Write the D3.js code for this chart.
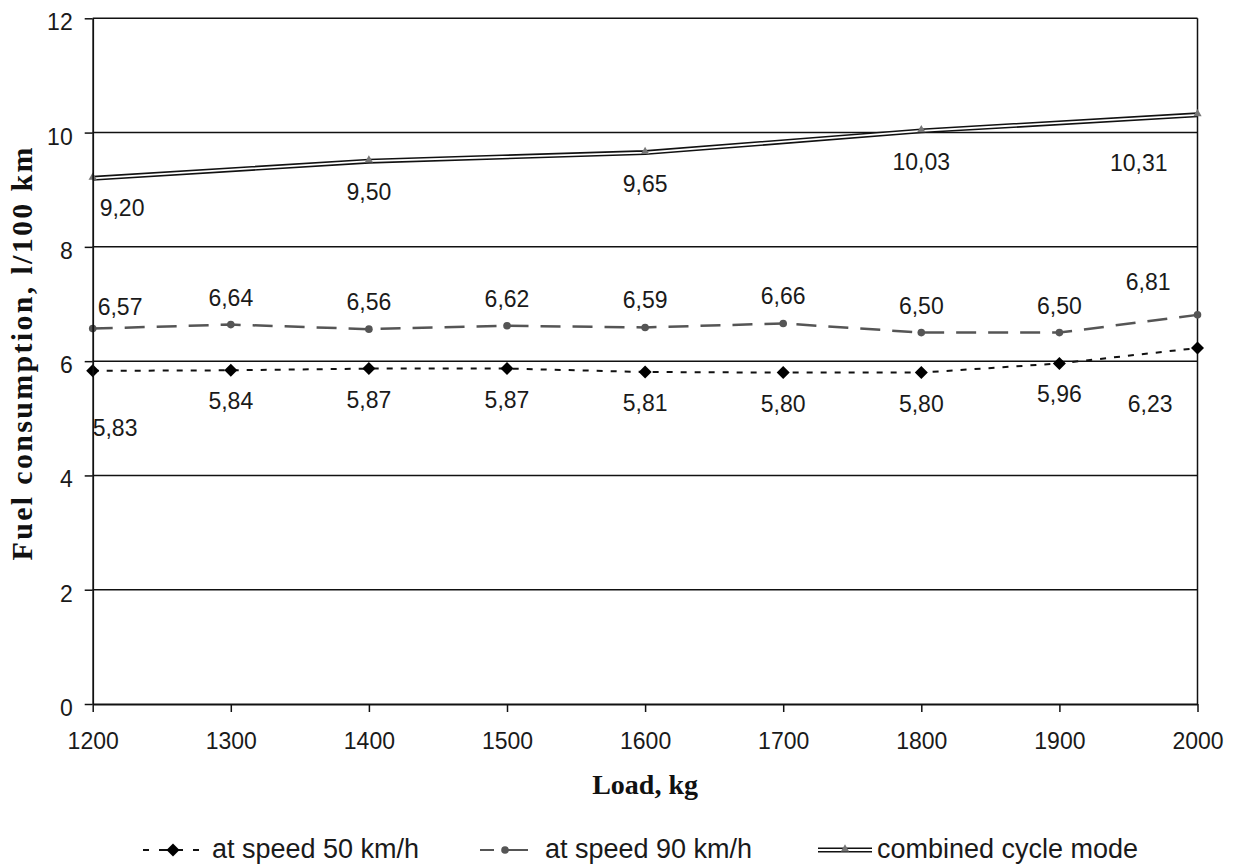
<!DOCTYPE html>
<html>
<head>
<meta charset="utf-8">
<script src="https://cdn.jsdelivr.net/npm/d3@7"></script>
<style>
  body { margin: 0; background: #fff; }
  svg { display: block; }
  .tick text { font-family: "Liberation Sans", Arial, sans-serif; font-size: 23px; fill: #1a1a1a; }
</style>
</head>
<body>
<div id="chart"></div>
<script>
// data
const loads = [1200, 1300, 1400, 1500, 1600, 1700, 1800, 1900, 2000];
const speed50 = [5.83, 5.84, 5.87, 5.87, 5.81, 5.80, 5.80, 5.96, 6.23];
const speed90 = [6.57, 6.64, 6.56, 6.62, 6.59, 6.66, 6.50, 6.50, 6.81];
const combinedLoads = [1200, 1400, 1600, 1800, 2000];
const combined = [9.20, 9.50, 9.65, 10.03, 10.31];
const xTickValues = [1200, 1300, 1400, 1500, 1600, 1700, 1800, 1900, 2000];
const yTickValues = [0, 2, 4, 6, 8, 10, 12];
const seriesNames = ["at speed 50 km/h", "at speed 90 km/h", "combined cycle mode"];

const width = 1236;
const height = 864;
const plot = { left: 92.7, right: 1197.5, top: 18.3, bottom: 704 };

const svg = d3.select('#chart')
    .append('svg')
    .attr('width', width)
    .attr('height', height);

const x = d3.scaleLinear().domain([1200, 2000]).range([plot.left, plot.right]);
const y = d3.scaleLinear().domain([0, 12]).range([plot.bottom, plot.top]);

const fmt = v => d3.format('.2f')(v).replace('.', ',');

// horizontal gridlines
svg.append('g')
    .selectAll('line')
    .data(yTickValues.filter(d => d > 0))
    .enter()
    .append('line')
    .attr('x1', plot.left)
    .attr('x2', plot.right)
    .attr('y1', d => y(d))
    .attr('y2', d => y(d))
    .attr('stroke', '#111')
    .attr('stroke-width', 1.5);

// right border of the plot
svg.append('line')
    .attr('x1', plot.right).attr('x2', plot.right)
    .attr('y1', plot.top).attr('y2', plot.bottom)
    .attr('stroke', '#111')
    .attr('stroke-width', 1.5);

// series set up: style and where the value labels go
const series = [
    {
        name: seriesNames[0],
        xs: loads, ys: speed50,
        color: '#111', width: 2, dash: '6,8',
        marker: 'diamond',
        dy: 31, first: { dx: 0, dy: 57 }, last: { dx: -25, dy: 56 }
    },
    {
        name: seriesNames[1],
        xs: loads, ys: speed90,
        color: '#555', width: 2.5, dash: '20,12',
        marker: 'circle',
        dy: -27, first: { dx: 5, dy: -22 }, last: { dx: -27, dy: -33 }
    },
    {
        name: seriesNames[2],
        xs: combinedLoads, ys: combined,
        color: '#111', width: 5, dash: null, double: true,
        marker: 'triangle',
        dy: 31, first: { dx: 7, dy: 30 }, last: { dx: -30, dy: 48 }
    }
];

const line = d3.line().x(d => x(d[0])).y(d => y(d[1]));

function drawMarker(g, type, cx, cy) {
    if (type === 'diamond') {
        g.append('path')
            .attr('d', 'M0,-6.5L6.5,0L0,6.5L-6.5,0Z')
            .attr('transform', `translate(${cx},${cy})`)
            .attr('fill', '#000');
    } else if (type === 'circle') {
        g.append('circle')
            .attr('cx', cx).attr('cy', cy).attr('r', 3.8)
            .attr('fill', '#555');
    } else {
        g.append('path')
            .attr('d', d3.symbol(d3.symbolTriangle, 30)())
            .attr('transform', `translate(${cx},${cy - 1})`)
            .attr('fill', '#777');
    }
}

series.forEach(s => {
    const pts = s.xs.map((v, i) => [v, s.ys[i]]);
    const g = svg.append('g');

    const path = g.append('path')
        .datum(pts)
        .attr('d', line)
        .attr('fill', 'none')
        .attr('stroke', s.color)
        .attr('stroke-width', s.width);
    if (s.dash) path.attr('stroke-dasharray', s.dash);
    if (s.double) {
        g.append('path')
            .datum(pts)
            .attr('d', line)
            .attr('fill', 'none')
            .attr('stroke', '#fff')
            .attr('stroke-width', 1.8);
    }

    pts.forEach(p => drawMarker(g, s.marker, x(p[0]), y(p[1])));

    // value labels
    g.selectAll('text')
        .data(pts)
        .enter()
        .append('text')
        .attr('x', (d, i) => {
            if (i === 0) return x(d[0]) + s.first.dx;
            if (i === pts.length - 1) return x(d[0]) + s.last.dx;
            return x(d[0]);
        })
        .attr('y', (d, i) => {
            let off = s.dy;
            if (i === 0) off = s.first.dy;
            if (i === pts.length - 1) off = s.last.dy;
            return y(d[1]) + off + 8;
        })
        .attr('text-anchor', (d, i) => i === 0 ? 'start' : (i === pts.length - 1 ? 'end' : 'middle'))
        .attr('font-family', '"Liberation Sans", Arial, sans-serif')
        .attr('font-size', 23)
        .attr('fill', '#1a1a1a')
        .text(d => fmt(d[1]));
});

// axes
const yAxis = svg.append('g')
    .attr('transform', `translate(${plot.left},0)`)
    .call(d3.axisLeft(y).tickValues(yTickValues).tickSize(8).tickSizeOuter(0).tickPadding(12));
yAxis.selectAll('text').attr('dy', '0.5em');

const xAxis = svg.append('g')
    .attr('transform', `translate(0,${plot.bottom})`)
    .call(d3.axisBottom(x).tickValues(xTickValues).tickFormat(d3.format('d')).tickSize(8).tickSizeOuter(0).tickPadding(21));

[yAxis, xAxis].forEach(a => {
    a.select('.domain').attr('stroke', '#111').attr('stroke-width', 1.8);
    a.selectAll('.tick line').attr('stroke', '#111').attr('stroke-width', 1.5);
});

// axis titles
svg.append('text')
    .attr('x', (plot.left + plot.right) / 2)
    .attr('y', 794)
    .attr('text-anchor', 'middle')
    .attr('font-family', '"Liberation Serif", "Times New Roman", serif')
    .attr('font-weight', 'bold')
    .attr('font-size', 28)
    .attr('fill', '#111')
    .text('Load, kg');

svg.append('text')
    .attr('transform', 'translate(32,354) rotate(-90)')
    .attr('text-anchor', 'middle')
    .attr('font-family', '"Liberation Serif", "Times New Roman", serif')
    .attr('font-weight', 'bold')
    .attr('font-size', 30)
    .attr('textLength', 413)
    .attr('lengthAdjust', 'spacing')
    .attr('fill', '#111')
    .text('Fuel consumption, l/100 km');

// legend
const legendY = 850;
const legendItems = [
    { s: series[0], x0: 143, x1: 203, textX: 212 },
    { s: series[1], x0: 480, x1: 528, textX: 545 },
    { s: series[2], x0: 818, x1: 872, textX: 877 }
];

const legend = svg.append('g');
legendItems.forEach(item => {
    const s = item.s;
    const mid = (item.x0 + item.x1) / 2;
    const seg = legend.append('line')
        .attr('x1', item.x0).attr('x2', item.x1)
        .attr('y1', legendY).attr('y2', legendY)
        .attr('stroke', s.color)
        .attr('stroke-width', s.double ? 5 : 2);
    if (s.marker === 'diamond') seg.attr('stroke-dasharray', '6,10,24,10,6');
    if (s.marker === 'circle') seg.attr('stroke-dasharray', '14,8,40');
    if (s.double) {
        legend.append('line')
            .attr('x1', item.x0).attr('x2', item.x1)
            .attr('y1', legendY).attr('y2', legendY)
            .attr('stroke', '#fff')
            .attr('stroke-width', 1.8);
    }
    drawMarker(legend, s.marker, s.marker === 'circle' ? 505 : mid, legendY);
    legend.append('text')
        .attr('x', item.textX)
        .attr('y', legendY + 8)
        .attr('font-family', '"Liberation Sans", Arial, sans-serif')
        .attr('font-size', 27)
        .attr('fill', '#1a1a1a')
        .text(s.name);
});
</script>
</body>
</html>
